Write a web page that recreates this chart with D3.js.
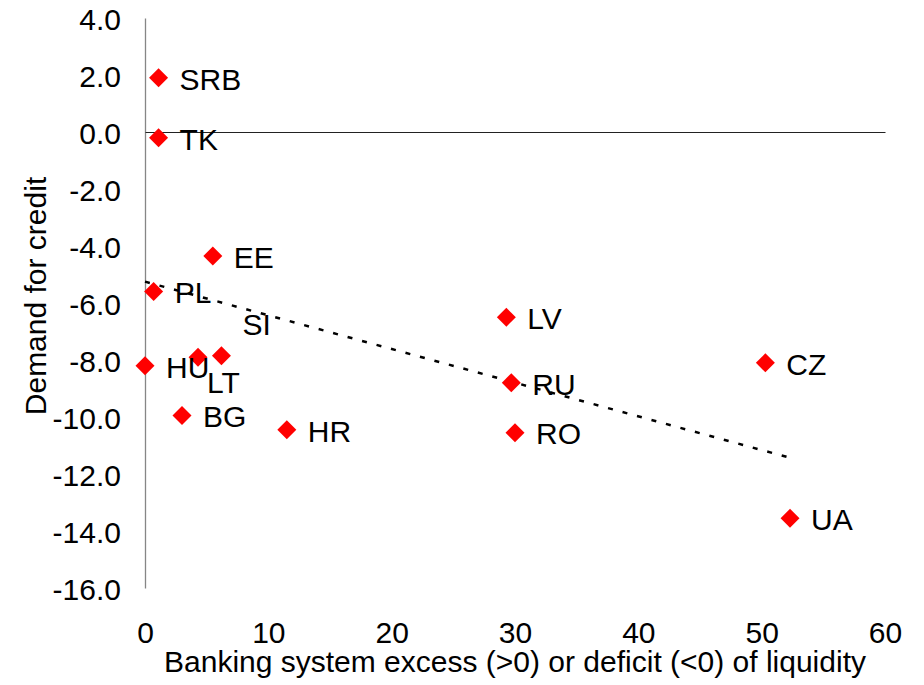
<!DOCTYPE html>
<html>
<head>
<meta charset="utf-8">
<script src="https://cdn.jsdelivr.net/npm/d3@7"></script>
<style>
  html, body { margin: 0; padding: 0; background: #fff; }
  svg { display: block; font-family: "Liberation Sans", Arial, sans-serif; }
</style>
</head>
<body>
<svg id="chart" width="924" height="685"></svg>
<script>
// ---- data ----
const countries = ["SRB", "TK", "EE", "PL", "HU", "LT", "SI", "BG", "HR", "LV", "RU", "RO", "CZ", "UA"];
const liquidity = [1.1, 1.1, 5.5, 0.7, 0.0, 4.3, 6.2, 3.0, 11.5, 29.3, 29.7, 30.0, 50.3, 52.3];
const creditDemand = [1.9, -0.2, -4.35, -5.6, -8.2, -7.9, -7.85, -9.95, -10.45, -6.5, -8.8, -10.55, -8.1, -13.55];
const xTicks = [0, 10, 20, 30, 40, 50, 60];
const yTicks = [4, 2, 0, -2, -4, -6, -8, -10, -12, -14, -16];
const xTitle = "Banking system excess (>0) or deficit (<0) of liquidity";
const yTitle = "Demand for credit";

// ---- layout ----
const svg = d3.select("#chart");
const mLeft = 145, mRight = 885, mTop = 18, mBottom = 588;
const x = d3.scaleLinear().domain([0, 60]).range([mLeft, mRight]);
const y = d3.scaleLinear().domain([-16, 4]).range([mBottom, mTop]);
const fontSize = 30;

// y axis line (gray), no ticks
const yAxis = d3.axisLeft(y).tickValues(yTicks).tickSize(0).tickPadding(24)
  .tickFormat(d => d.toFixed(1));
const gy = svg.append("g").attr("transform", `translate(${x(0)},0)`).call(yAxis);
gy.select(".domain").attr("stroke", "#868686").attr("stroke-width", 1.3);
gy.selectAll("text").attr("font-size", fontSize).attr("fill", "#000")
  .attr("font-family", "Liberation Sans, Arial, sans-serif").attr("dy", "0.38em");

// x axis: line at y=0, labels at bottom
const gx0 = svg.append("g").attr("transform", `translate(0,${y(0)})`)
  .call(d3.axisBottom(x).tickValues([]).tickSize(0));
gx0.select(".domain").attr("stroke", "#222").attr("stroke-width", 1.2);

const gxl = svg.append("g").attr("transform", `translate(0,${mBottom})`)
  .call(d3.axisBottom(x).tickValues(xTicks).tickSize(0).tickPadding(34)
    .tickFormat(d => String(d)));
gxl.select(".domain").remove();
gxl.selectAll("text").attr("font-size", fontSize).attr("fill", "#000")
  .attr("font-family", "Liberation Sans, Arial, sans-serif");

// trendline (least squares)
const n = liquidity.length;
const mx = d3.mean(liquidity), my = d3.mean(creditDemand);
let sxy = 0, sxx = 0;
for (let i = 0; i < n; i++) {
  sxy += (liquidity[i] - mx) * (creditDemand[i] - my);
  sxx += (liquidity[i] - mx) ** 2;
}
const slope = sxy / sxx, intercept = my - slope * mx;
const x0 = d3.min(liquidity), x1 = d3.max(liquidity);
svg.append("line")
  .attr("x1", x(x0)).attr("y1", y(intercept + slope * x0))
  .attr("x2", x(x1)).attr("y2", y(intercept + slope * x1))
  .attr("stroke", "#000").attr("stroke-width", 2.5)
  .attr("stroke-dasharray", "5,10");

// points
const pts = countries.map((c, i) => ({ c, x: liquidity[i], y: creditDemand[i] }));
const diamond = d3.symbol().type(d3.symbolSquare).size(180);
svg.append("g").selectAll("path").data(pts).join("path")
  .attr("d", diamond)
  .attr("transform", d => `translate(${x(d.x)},${y(d.y)}) rotate(45)`)
  .attr("fill", "#ff0000");

// labels (default right of point; some moved as in the original)
const labelShift = { SI: [21, -32], LT: [9, 25] };
svg.append("g").selectAll("text").data(pts).join("text")
  .attr("x", d => x(d.x) + (labelShift[d.c] ? labelShift[d.c][0] : 21))
  .attr("y", d => y(d.y) + (labelShift[d.c] ? labelShift[d.c][1] : 1))
  .attr("dy", "0.36em")
  .attr("font-size", fontSize)
  .attr("fill", "#000")
  .text(d => d.c);

// axis titles
svg.append("text")
  .attr("x", (mLeft + mRight) / 2).attr("y", 672)
  .attr("text-anchor", "middle").attr("font-size", fontSize).attr("fill", "#000")
  .text(xTitle);
svg.append("text")
  .attr("transform", `translate(46,296) rotate(-90)`)
  .attr("text-anchor", "middle").attr("font-size", fontSize).attr("fill", "#000")
  .text(yTitle);
</script>
</body>
</html>
